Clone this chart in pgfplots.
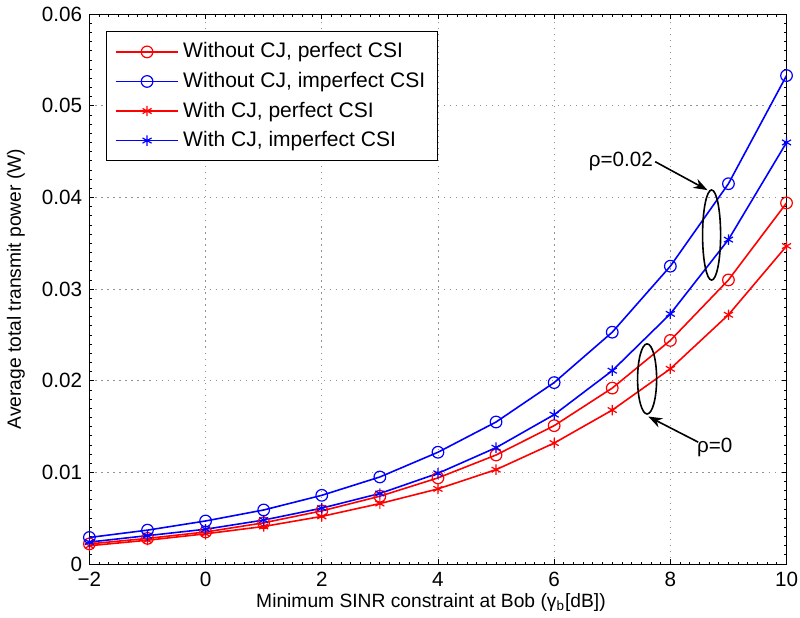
\documentclass[border=0pt]{standalone}
\usepackage{pgfplots}
\pgfplotsset{compat=1.18}
\usepackage{fontspec}
\setmainfont{Liberation Sans}
\usetikzlibrary{arrows.meta}
\begin{document}
\fontsize{10.3}{12}\selectfont
\begin{tikzpicture}
\begin{axis}[
  scale only axis,
  width=348pt, height=274.5pt,
  xmin=-2, xmax=10, ymin=0, ymax=0.06,
  xtick={-2,0,2,4,6,8,10},
  xticklabels={−2,0,2,4,6,8,10},
  ytick={0,0.01,0.02,0.03,0.04,0.05,0.06},
  yticklabels={0,0.01,0.02,0.03,0.04,0.05,0.06},
  minor x tick num=11,
  minor y tick num=9,
  scaled y ticks=false,
  /pgf/number format/assume math mode=true,
  tick align=inside,
  major tick length=2.5pt,
  minor tick length=1.2pt,
  tick style={black, line width=0.4pt},
  grid=major,
  grid style={dash pattern=on 0.6pt off 2.4pt, gray!85, line width=0.4pt},
  axis line style={black, line width=0.5pt},
  tick label style={font=\fontsize{10.3}{12}\selectfont},
  label style={font=\fontsize{9.6}{11}\selectfont},
  xticklabel style={yshift=-0.5pt, inner xsep=1pt},
  xlabel={Minimum SINR constraint at Bob (γ\textsubscript{b}[dB])},
  ylabel={Average total transmit power (W)},
  xlabel style={yshift=4pt, xshift=-3.5pt},
  ylabel style={yshift=1.5pt},
  legend style={at={(0.0244,0.969)}, anchor=north west, draw=black, line width=0.5pt,
    font=\fontsize{10.5}{12}\selectfont, row sep=1.6pt, inner xsep=4pt, inner ysep=3.5pt},
  legend cell align=left,
  legend image code/.code={\draw[mark repeat=2,mark phase=2,#1] plot coordinates {(0cm,0cm) (0.55cm,0cm) (1.1cm,0cm)};},
  every axis plot/.append style={line width=0.8pt},
]
\addplot[red, mark=o, mark size=2.9pt, mark options={solid, line width=0.6pt}] coordinates {
(-2,0.0022) (-1,0.0028) (0,0.0035) (1,0.0045) (2,0.0058) (3,0.0074) (4,0.0094) (5,0.0119) (6,0.0151) (7,0.0192) (8,0.0244) (9,0.0310) (10,0.0394)};
\addlegendentry{Without CJ, perfect CSI}
\addplot[blue, mark=o, mark size=2.9pt, mark options={solid, line width=0.6pt}] coordinates {
(-2,0.0029) (-1,0.0037) (0,0.0047) (1,0.0059) (2,0.0075) (3,0.0095) (4,0.0122) (5,0.0155) (6,0.0198) (7,0.0253) (8,0.0325) (9,0.0415) (10,0.0533)};
\addlegendentry{Without CJ, imperfect CSI}
\addplot[red, mark=asterisk, mark size=2.6pt, mark options={solid, line width=0.6pt}] coordinates {
(-2,0.0020) (-1,0.0026) (0,0.0033) (1,0.0041) (2,0.0052) (3,0.0066) (4,0.0082) (5,0.0103) (6,0.0132) (7,0.0168) (8,0.0213) (9,0.0272) (10,0.0347)};
\addlegendentry{With CJ, perfect CSI}
\addplot[blue, mark=asterisk, mark size=2.6pt, mark options={solid, line width=0.6pt}] coordinates {
(-2,0.0024) (-1,0.0031) (0,0.0038) (1,0.0048) (2,0.0061) (3,0.0077) (4,0.0099) (5,0.0127) (6,0.0163) (7,0.0211) (8,0.0273) (9,0.0354) (10,0.0460)};
\addlegendentry{With CJ, imperfect CSI}
% annotations
\draw[black, line width=0.8pt] (axis cs:8.71,0.0359) ellipse [x radius=4.5pt, y radius=22.5pt];
\draw[black, line width=0.8pt] (axis cs:7.60,0.0202) ellipse [x radius=4.75pt, y radius=17.5pt];
\draw[black, line width=0.8pt, -{Stealth[length=7pt,width=5pt]}] (axis cs:7.74,0.0439) -- (axis cs:8.64,0.0408);
\draw[black, line width=0.8pt, -{Stealth[length=7pt,width=5pt]}] (axis cs:8.48,0.0133) -- (axis cs:7.62,0.0161);
\node[anchor=east, inner sep=1pt, font=\fontsize{10.3}{12}\selectfont] at (axis cs:7.74,0.0439) {ρ=0.02};
\node[anchor=west, inner sep=1pt, font=\fontsize{10.3}{12}\selectfont] at (axis cs:8.42,0.0127) {ρ=0};
\end{axis}
\end{tikzpicture}
\end{document}
